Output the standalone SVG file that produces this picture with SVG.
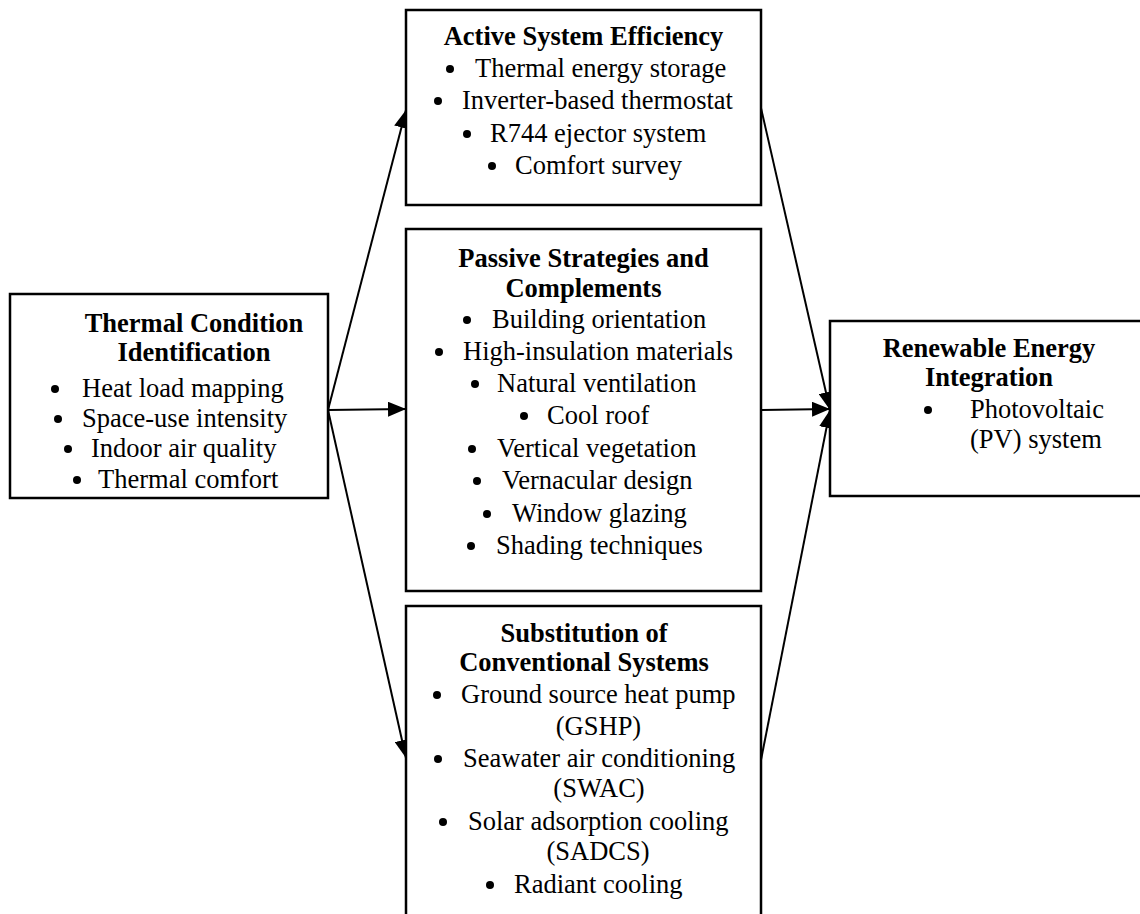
<svg xmlns="http://www.w3.org/2000/svg" width="1140" height="914" viewBox="0 0 1140 914">
<style>
.box{fill:#fff;stroke:#000;stroke-width:2.5}
.t{font-family:"Liberation Serif","Times New Roman",serif;font-size:26.5px;fill:#000}
.h{font-weight:bold;text-anchor:middle}
.m{text-anchor:middle}
.b{fill:#000}
.c{stroke:#000;stroke-width:2;fill:none;marker-end:url(#ah)}
</style>
<defs>
<marker id="ah" markerUnits="userSpaceOnUse" markerWidth="19" markerHeight="15" refX="18" refY="7.5" orient="auto">
<path d="M0,0 L18,7.5 L0,15 z" fill="#000"/>
</marker>
</defs>
<rect width="1140" height="914" fill="#fff"/>
<g id="connectors">
<line class="c" x1="328" y1="410" x2="406" y2="110"/>
<line class="c" x1="328" y1="410" x2="406" y2="409"/>
<line class="c" x1="328" y1="410" x2="406" y2="758"/>
<line class="c" x1="761" y1="108" x2="830" y2="410"/>
<line class="c" x1="761" y1="410" x2="830" y2="409"/>
<line class="c" x1="761" y1="760" x2="830" y2="410"/>
</g>
<g id="thermal">
<rect class="box" x="10" y="294" width="318" height="204"/>
<text class="t h" x="194" y="332">Thermal Condition</text>
<text class="t h" x="194" y="361">Identification</text>
<circle class="b" cx="55" cy="389" r="4"/><text class="t" x="82" y="397">Heat load mapping</text>
<circle class="b" cx="58" cy="419" r="4"/><text class="t" x="82" y="427">Space-use intensity</text>
<circle class="b" cx="68" cy="449" r="4"/><text class="t" x="91" y="457">Indoor air quality</text>
<circle class="b" cx="77" cy="480" r="4"/><text class="t" x="98" y="488">Thermal comfort</text>
</g>
<g id="active">
<rect class="box" x="406" y="10" width="355" height="195"/>
<text class="t h" x="583.5" y="45">Active System Efficiency</text>
<circle class="b" cx="450" cy="69" r="4"/><text class="t" x="475" y="77">Thermal energy storage</text>
<circle class="b" cx="438" cy="101" r="4"/><text class="t" x="462" y="109">Inverter-based thermostat</text>
<circle class="b" cx="467" cy="134" r="4"/><text class="t" x="490" y="142">R744 ejector system</text>
<circle class="b" cx="492" cy="166" r="4"/><text class="t" x="515" y="174">Comfort survey</text>
</g>
<g id="passive">
<rect class="box" x="406" y="229" width="355" height="362"/>
<text class="t h" x="583.5" y="267">Passive Strategies and</text>
<text class="t h" x="583.5" y="297">Complements</text>
<circle class="b" cx="467" cy="320" r="4"/><text class="t" x="492" y="328">Building orientation</text>
<circle class="b" cx="439" cy="352" r="4"/><text class="t" x="463" y="360">High-insulation materials</text>
<circle class="b" cx="475" cy="384" r="4"/><text class="t" x="497" y="392">Natural ventilation</text>
<circle class="b" cx="524" cy="416" r="4"/><text class="t" x="547" y="424">Cool roof</text>
<circle class="b" cx="472" cy="449" r="4"/><text class="t" x="497" y="457">Vertical vegetation</text>
<circle class="b" cx="477" cy="481" r="4"/><text class="t" x="502" y="489">Vernacular design</text>
<circle class="b" cx="487" cy="514" r="4"/><text class="t" x="512" y="522">Window glazing</text>
<circle class="b" cx="471" cy="546" r="4"/><text class="t" x="496" y="554">Shading techniques</text>
</g>
<g id="substitution">
<rect class="box" x="406" y="606" width="355" height="330"/>
<text class="t h" x="584" y="642">Substitution of</text>
<text class="t h" x="584" y="671">Conventional Systems</text>
<circle class="b" cx="437" cy="695" r="4"/><text class="t" x="461" y="703">Ground source heat pump</text>
<text class="t m" x="598.5" y="735">(GSHP)</text>
<circle class="b" cx="438" cy="759" r="4"/><text class="t" x="463" y="767">Seawater air conditioning</text>
<text class="t m" x="599" y="797">(SWAC)</text>
<circle class="b" cx="443" cy="822" r="4"/><text class="t" x="468" y="830">Solar adsorption cooling</text>
<text class="t m" x="598" y="860">(SADCS)</text>
<circle class="b" cx="490" cy="885" r="4"/><text class="t" x="514" y="893">Radiant cooling</text>
</g>
<g id="renewable">
<rect class="box" x="830" y="321" width="320" height="175"/>
<text class="t h" x="989" y="357">Renewable Energy</text>
<text class="t h" x="989" y="386">Integration</text>
<circle class="b" cx="928" cy="410" r="4"/><text class="t" x="970" y="418">Photovoltaic</text>
<text class="t" x="970" y="448">(PV) system</text>
</g>
</svg>
